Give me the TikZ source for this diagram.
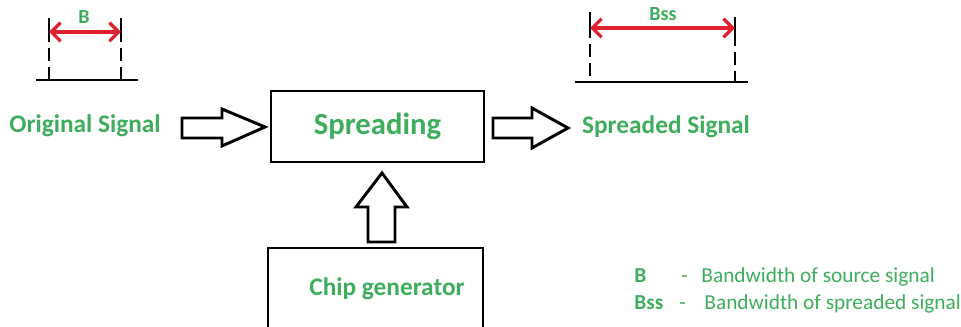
\documentclass[tikz,border=0pt]{standalone}
\usepackage{fontspec}
\setmainfont{Carlito}
\usetikzlibrary{arrows.meta}
\definecolor{SPGreen}{HTML}{3DAE5B}
\definecolor{SPRed}{HTML}{E0202F}

\begin{document}
\begin{tikzpicture}[x=0.75pt,y=-0.75pt,line width=2.2pt,
  sigtext/.style={text=SPGreen,font=\bfseries\fontsize{19}{22}\selectfont},
  bwtext/.style={text=SPGreen,font=\bfseries\fontsize{15}{18}\selectfont},
  legtext/.style={text=SPGreen,font=\fontsize{16}{19}\selectfont,anchor=base west,inner sep=0pt},
  bwarrow/.style={SPRed,line width=2.4pt,{Straight Barb[length=7pt,width=14pt]}-{Straight Barb[length=7pt,width=14pt]}},
  blockarrow/.style={draw,line join=miter,fill=white}]
\path[use as bounding box] (0,0) rectangle (961,327);
\fill[white] (0,0) rectangle (961,327);
% source signal bandwidth
\draw (36,80) -- (138,80);
\draw (49,18) -- (49,42);
\draw[dash pattern=on 10pt off 4pt] (49,48) -- (49,80);
\draw (121,18) -- (121,42);
\draw[dash pattern=on 10pt off 4pt] (121,48) -- (121,80);
\coordinate (bl) at (49,32);
\coordinate (br) at (121,32);
\draw[bwarrow] (bl) -- (br);
\node[bwtext] (blab) at (84,17) {B};
% spreaded signal bandwidth
\draw (575,82) -- (748,82);
\draw (590,12) -- (590,38);
\draw[dash pattern=on 10pt off 4pt] (590,44) -- (590,82);
\draw (735,17) -- (735,46);
\draw[dash pattern=on 10pt off 4pt] (735,52) -- (735,82);
\coordinate (bssl) at (590,28);
\coordinate (bssr) at (735,28);
\draw[bwarrow] (bssl) -- (bssr);
\node[bwtext] (bsslab) at (663,14) {Bss};
% blocks
\node[draw,minimum width=159.75pt,minimum height=53.25pt,sigtext,font=\bfseries\fontsize{23}{27}\selectfont] (spread) at (377.5,126.5) {Spreading};
\node[sigtext] (orig) at (85,126) {Original Signal};
\node[sigtext] (spsig) at (666,127) {Spreaded Signal};
\draw (268,330) -- (268,248) -- (483,248) -- (483,330);
\node[sigtext] (chip) at (387,289) {Chip generator};
% block arrows
\draw[blockarrow] (182,118) -- (222,118) -- (222,109) -- (265,127) -- (222,146) -- (222,138) -- (182,138) -- cycle;
\draw[blockarrow] (493,118) -- (532,118) -- (532,108) -- (568,128) -- (532,148) -- (532,138) -- (493,138) -- cycle;
\draw[blockarrow] (368,242) -- (368,207) -- (356,207) -- (382,173) -- (407,207) -- (395,207) -- (395,242) -- cycle;
% legend
\node[legtext,font=\bfseries\fontsize{16}{19}\selectfont] (legb) at (633,283) {B};
\node[legtext] (legbd) at (680,283) {-};
\node[legtext] (legbt) at (700,283) {Bandwidth of source signal};
\node[legtext,font=\bfseries\fontsize{16}{19}\selectfont] (legbss) at (633,310) {Bss};
\node[legtext] (legbssd) at (678,310) {-};
\node[legtext] (legbsst) at (703,310) {Bandwidth of spreaded signal};
\end{tikzpicture}
\end{document}
